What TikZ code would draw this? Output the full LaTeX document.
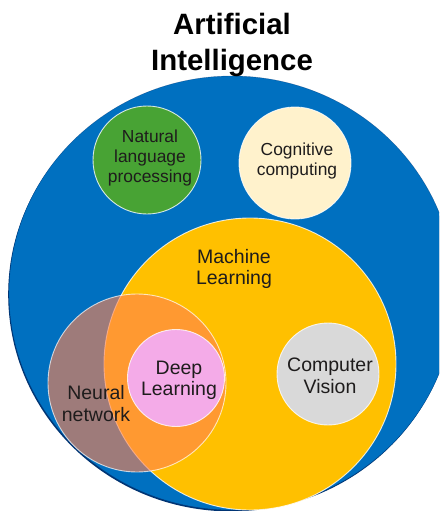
\documentclass[tikz,border=0pt]{standalone}
\usepackage{fontspec}
\setmainfont{Liberation Sans}
\usetikzlibrary{shapes.geometric}
\definecolor{aiblue}{RGB}{0,112,192}
\definecolor{airim}{RGB}{0,52,115}
\definecolor{mlyellow}{RGB}{255,192,0}
\definecolor{nlpgreen}{RGB}{72,163,52}
\definecolor{cogcream}{RGB}{255,242,204}
\definecolor{cvgrey}{RGB}{217,217,217}
\definecolor{dlpink}{RGB}{244,171,232}
\definecolor{nnfill}{RGB}{255,130,80}
\definecolor{txt}{RGB}{30,28,28}
\begin{document}
\begin{tikzpicture}[x=1pt,y=-1pt,
  disc/.style={circle, inner sep=0pt, draw=white, line width=0.9pt, draw opacity=0.8},
  field/.style={ellipse, inner sep=0pt, minimum width=446pt, minimum height=434pt},
  lbl/.style={align=center, text=txt, inner sep=0pt, font=\fontsize{19.5}{21.6}\selectfont},
  lblsmall/.style={align=center, text=txt, inner sep=0pt, font=\fontsize{17.4}{20}\selectfont},
  heading/.style={align=center, text=black, inner sep=0pt, font=\bfseries\fontsize{29.4}{36}\selectfont}
]
\useasboundingbox (0,0) rectangle (439,511);
\clip (0,0) rectangle (439,511);
\fill[white] (0,0) rectangle (439,511);

% outer field: artificial intelligence, with a dark rim on its lower side
\node[field, fill=airim] (aishadow) at (231.2,294.4) {};
\node[field, fill=aiblue, draw=airim, draw opacity=0.5, line width=0.4pt] (ai) at (232,293) {};

% sub-fields of AI
\node[disc, fill=nlpgreen, minimum size=108pt] (nlp) at (147,160) {};
\node[disc, fill=cogcream, minimum size=112pt] (cog) at (295,163) {};
\node[disc, fill=mlyellow, minimum size=292pt] (ml) at (250,364) {};

% neural networks overlap machine learning
\node[circle, inner sep=0pt, minimum size=178pt, fill=nnfill, fill opacity=0.62,
      draw=white, draw opacity=0.7, line width=0.9pt] (nn) at (137,383) {};

% inside machine learning
\node[disc, fill=dlpink, minimum size=97pt] (dl) at (176,378) {};
\node[disc, fill=cvgrey, minimum size=102pt] (cv) at (328,374) {};

% labels
\node[heading] (titletext) at (232,44.8) {Artificial\\Intelligence};
\node[lblsmall] (nlptext) at (150,158.3) {Natural\\language\\processing};
\node[lblsmall] (cogtext) at (297,160.6) {Cognitive\\computing};
\node[lbl] (mltext) at (234,269) {Machine\\Learning};
\node[lbl] (dltext) at (179,380.5) {Deep\\Learning};
\node[lbl] (nntext) at (96,403.5) {Neural\\network};
\node[lbl] (cvtext) at (330,375.5) {Computer\\Vision};
\end{tikzpicture}
\end{document}
